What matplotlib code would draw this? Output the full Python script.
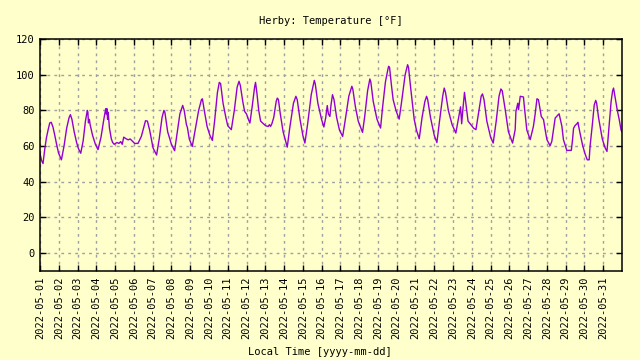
import pandas as pd
import matplotlib
matplotlib.use("Agg")
import matplotlib.pyplot as plt
import matplotlib.dates as mdates

# days since 2022-05-01 00:00 local time, and temperature in deg F
day_offset = [
    0.00, 0.08, 0.16, 0.25, 0.34, 0.43, 0.52, 0.60, 0.69, 0.78, 0.87, 0.99,
    1.14, 1.28, 1.42, 1.55, 1.62, 1.70, 1.82, 1.95, 2.05,
    2.17, 2.30, 2.42, 2.52, 2.55, 2.58, 2.63, 2.67, 2.80, 2.95,
    3.09, 3.25, 3.40, 3.50, 3.53, 3.56, 3.60, 3.63, 3.70, 3.80,
    3.87, 3.95, 4.10, 4.20, 4.30, 4.38, 4.46, 4.60, 4.70, 4.80, 4.90, 5.04,
    5.22, 5.40, 5.54, 5.62, 5.72, 5.84, 6.02,
    6.21, 6.35, 6.50, 6.60, 6.65, 6.80, 7.00,
    7.17, 7.30, 7.45, 7.60, 7.68, 7.80, 7.85, 7.95,
    8.11, 8.25, 8.45, 8.60, 8.65, 8.75, 8.90, 9.05,
    9.18, 9.30, 9.45, 9.55, 9.62, 9.75, 9.90, 10.00,
    10.19, 10.35, 10.50, 10.60, 10.67, 10.80, 10.90, 11.00, 11.10,
    11.18, 11.30, 11.43, 11.48, 11.55, 11.65, 11.75, 11.90, 12.02, 12.15, 12.22, 12.28, 12.35,
    12.45, 12.58, 12.64, 12.70, 12.80, 12.95, 13.10,
    13.17, 13.30, 13.50, 13.63, 13.70, 13.85, 14.00,
    14.11, 14.25, 14.45, 14.61, 14.66, 14.80, 15.00,
    15.12, 15.22, 15.30, 15.36, 15.44, 15.50, 15.58, 15.66, 15.80, 15.95,
    16.12, 16.25, 16.45, 16.61, 16.66, 16.80, 16.95,
    17.18, 17.30, 17.45, 17.57, 17.62, 17.75, 17.95,
    18.14, 18.25, 18.40, 18.53, 18.57, 18.62, 18.72, 18.81, 18.96,
    19.13, 19.25, 19.45, 19.58, 19.63, 19.75, 19.93, 20.05,
    20.20, 20.35, 20.50, 20.59, 20.65, 20.80, 21.00,
    21.14, 21.28, 21.45, 21.53, 21.60, 21.75, 21.95,
    22.15, 22.30, 22.40, 22.46, 22.52, 22.61, 22.68, 22.80, 22.95, 23.10,
    23.22, 23.35, 23.50, 23.57, 23.65, 23.80, 24.00,
    24.14, 24.30, 24.45, 24.55, 24.62, 24.78, 24.95,
    25.17, 25.31, 25.35, 25.45, 25.49, 25.58, 25.75, 25.80, 25.93,
    26.11, 26.28, 26.37, 26.47, 26.55, 26.70, 26.82, 26.91, 27.00,
    27.17, 27.26, 27.35, 27.44, 27.65, 27.80, 27.88,
    28.06, 28.30, 28.36, 28.42, 28.50, 28.60, 28.65, 28.75, 28.90, 29.02,
    29.15, 29.25, 29.30, 29.42, 29.52, 29.60, 29.65, 29.75, 29.95, 30.10,
    30.20, 30.30, 30.42, 30.50, 30.55, 30.62, 30.75, 30.85, 30.95, 31.00,
]
temp_f = [
    56.0, 52.0, 50.2, 58.0, 64.5, 69.0, 73.0, 73.3, 70.7, 66.4, 61.7, 56.0,
    52.3, 60.0, 70.0, 76.0, 77.6, 75.0, 68.0, 62.0, 58.5,
    56.0, 63.0, 74.0, 80.0, 79.0, 73.0, 75.0, 72.0, 66.0, 61.0,
    58.0, 65.0, 75.0, 81.0, 78.0, 81.0, 75.0, 79.0, 70.0, 64.0,
    62.0, 61.0, 62.0, 61.5, 62.5, 61.0, 65.0, 64.0, 63.5, 64.0, 63.0, 61.5,
    61.5, 65.5, 71.0, 74.2, 74.0, 69.0, 59.0,
    55.0, 64.0, 76.0, 80.0, 79.0, 68.0, 61.0,
    57.4, 67.0, 78.0, 82.8, 80.0, 72.0, 70.5, 64.0,
    59.8, 68.0, 80.0, 86.0, 86.5, 80.0, 71.0, 66.0,
    63.2, 74.0, 90.0, 95.7, 95.0, 84.0, 76.0, 71.4,
    69.2, 80.0, 93.0, 96.3, 94.0, 85.0, 79.4, 78.0, 75.0,
    72.9, 82.0, 93.0, 95.7, 90.0, 80.0, 74.0, 72.5, 71.4, 71.0, 72.0, 71.0, 72.5,
    76.0, 85.0, 86.9, 86.0, 78.0, 68.0, 62.0,
    59.4, 70.0, 84.0, 87.9, 86.0, 75.0, 66.0,
    61.7, 72.0, 89.0, 96.8, 95.0, 84.0, 74.8,
    70.7, 76.0, 82.7, 78.0, 76.6, 83.0, 88.8, 86.0, 76.0, 69.0,
    65.4, 74.0, 88.0, 93.5, 92.0, 82.0, 74.0,
    67.7, 77.0, 91.0, 97.6, 96.0, 85.0, 75.0,
    70.1, 82.0, 96.0, 103.0, 104.7, 104.0, 94.0, 86.0, 80.0,
    75.1, 84.0, 100.0, 105.6, 104.0, 92.0, 75.1, 69.0,
    64.1, 76.0, 85.0, 87.9, 86.0, 76.0, 66.0,
    62.0, 74.0, 88.0, 92.5, 90.0, 80.0, 72.0,
    67.3, 76.0, 82.0, 72.5, 80.0, 90.1, 84.0, 74.0, 72.0, 70.0,
    69.2, 78.0, 88.0, 89.2, 86.0, 74.0, 65.0,
    61.7, 74.0, 88.0, 92.0, 91.0, 80.4, 68.0,
    61.7, 69.2, 79.4, 84.0, 80.4, 87.9, 87.5, 82.0, 69.0,
    63.6, 71.0, 77.6, 86.5, 86.0, 76.6, 74.8, 69.0, 63.6,
    60.2, 62.6, 69.0, 75.7, 78.1, 71.0, 63.6,
    57.6, 57.6, 63.0, 70.0, 71.5, 72.5, 73.3, 68.0, 60.5, 56.0,
    52.3, 52.3, 60.0, 72.0, 83.0, 85.6, 84.0, 76.0, 64.0, 59.0,
    57.0, 70.0, 85.0, 91.0, 92.5, 88.0, 80.0, 75.0, 69.0, 68.0,
]

start = pd.Timestamp("2022-05-01")
times = start + pd.to_timedelta(day_offset, unit="D")
tick_days = pd.date_range("2022-05-01", "2022-05-31", freq="D")
y_ticks = [0, 20, 40, 60, 80, 100, 120]

bg = "#ffffcc"
plt.rcParams["font.family"] = ["DejaVu Sans Mono"]
plt.rcParams["font.size"] = 7.5

fig = plt.figure(figsize=(6.4, 3.6), dpi=100, facecolor=bg)
ax = fig.add_axes([40 / 640, 89 / 360, 582 / 640, 232 / 360], facecolor=bg)

ax.plot(times, temp_f, color="#9400d3", linewidth=1.0)

ax.set_xlim(start, pd.Timestamp("2022-06-01"))
ax.set_ylim(-10, 120)
ax.set_yticks(y_ticks)
ax.set_xticks(tick_days)
ax.xaxis.set_major_formatter(mdates.DateFormatter("%Y-%m-%d"))
plt.setp(ax.get_xticklabels(), rotation=90)

ax.tick_params(direction="in", length=4, width=1, top=True, right=True,
               colors="black", pad=4)
ax.grid(True, color="#a0a0a0", linestyle=(0, (2, 3)), linewidth=1)
for s in ax.spines.values():
    s.set_linewidth(1.1)

ax.set_title("Herby: Temperature [°F]", fontsize=7.5, pad=11)
fig.text(0.5, 3 / 360, "Local Time [yyyy-mm-dd]", ha="center", va="bottom", fontsize=7.5)

fig.savefig("out.png", dpi=100, facecolor=bg)
